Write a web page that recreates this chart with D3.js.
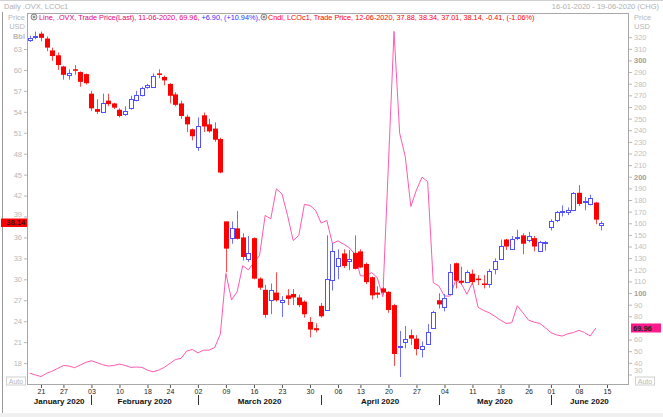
<!DOCTYPE html>
<html>
<head>
<meta charset="utf-8">
<script src="https://cdn.jsdelivr.net/npm/d3@7"></script>
<style>
  body { margin: 0; background: #fff; }
  svg { display: block; font-family: "Liberation Sans", Arial, sans-serif; }
</style>
</head>
<body>
<div id="chart"></div>
<script>
// trading days shown on the category axis (16 Jan - 19 Jun 2020)
const dates = [
  "2020-01-16","2020-01-17","2020-01-21","2020-01-22","2020-01-23","2020-01-24","2020-01-27","2020-01-28","2020-01-29","2020-01-30","2020-01-31",
  "2020-02-03","2020-02-04","2020-02-05","2020-02-06","2020-02-07","2020-02-10","2020-02-11","2020-02-12","2020-02-13","2020-02-14",
  "2020-02-18","2020-02-19","2020-02-20","2020-02-21","2020-02-24","2020-02-25","2020-02-26","2020-02-27","2020-02-28",
  "2020-03-02","2020-03-03","2020-03-04","2020-03-05","2020-03-06","2020-03-09","2020-03-10","2020-03-11","2020-03-12","2020-03-13",
  "2020-03-16","2020-03-17","2020-03-18","2020-03-19","2020-03-20","2020-03-23","2020-03-24","2020-03-25","2020-03-26","2020-03-27",
  "2020-03-30","2020-03-31","2020-04-01","2020-04-02","2020-04-03","2020-04-06","2020-04-07","2020-04-08","2020-04-09",
  "2020-04-13","2020-04-14","2020-04-15","2020-04-16","2020-04-17","2020-04-20","2020-04-21","2020-04-22","2020-04-23","2020-04-24",
  "2020-04-27","2020-04-28","2020-04-29","2020-04-30","2020-05-01","2020-05-04","2020-05-05","2020-05-06","2020-05-07","2020-05-08",
  "2020-05-11","2020-05-12","2020-05-13","2020-05-14","2020-05-15","2020-05-18","2020-05-19","2020-05-20","2020-05-21","2020-05-22",
  "2020-05-26","2020-05-27","2020-05-28","2020-05-29","2020-06-01","2020-06-02","2020-06-03","2020-06-04","2020-06-05",
  "2020-06-08","2020-06-09","2020-06-10","2020-06-11","2020-06-12","2020-06-15","2020-06-16","2020-06-17","2020-06-18","2020-06-19"
];

// LCOc1 candles (USD/Bbl)
const open = [64.3,64.7,65.2,64.5,62.8,62.1,60.5,59.2,60.1,59.7,59.4,
  56.6,54.4,54.0,55.6,55.2,54.3,53.6,54.5,55.7,56.4,57.5,57.6,59.5,59.0,58.0,56.5,55.2,53.3,51.5,
  48.9,53.5,52.2,51.6,50.1,38.3,35.9,37.3,36.0,32.9,35.9,30.1,28.5,27.1,28.1,26.8,27.7,27.9,27.4,26.8,23.9,23.0,
  26.2,25.6,29.9,31.8,33.7,32.6,33.8,34.0,32.2,30.3,28.1,28.7,28.2,26.3,20.2,20.9,22.0,21.5,20.0,20.8,23.0,
  27.0,26.0,28.0,32.3,29.8,29.6,30.8,30.1,29.4,29.4,31.4,32.9,35.7,34.4,35.9,36.3,35.6,35.9,34.0,35.25,
  37.4,38.4,39.7,39.7,39.9,42.4,41.1,40.9,41.0,37.88];
const high = [64.9,65.5,65.5,64.8,63.2,62.5,60.6,60.1,60.7,59.8,59.5,
  57.0,55.8,56.6,56.6,55.3,54.5,54.8,56.3,57.0,57.6,58.0,59.5,60.1,59.2,58.1,56.8,55.6,53.6,51.6,
  53.2,53.9,53.0,52.5,50.3,38.3,38.3,39.8,36.6,36.2,36.0,30.3,29.2,29.4,31.0,27.6,28.6,28.6,27.8,27.0,24.6,23.7,
  26.6,36.3,35.2,34.3,34.3,34.2,36.3,34.3,32.4,30.4,29.0,28.9,28.3,26.5,22.6,23.3,22.8,22.0,21.1,23.6,25.5,
  28.0,27.9,32.2,32.4,31.8,31.3,31.4,30.6,30.6,31.5,33.0,35.7,35.8,36.2,37.1,36.6,36.8,36.2,35.5,35.5,
  38.6,39.8,40.6,40.3,42.5,43.5,41.8,42.1,41.1,38.34];
const low = [64.0,64.4,64.1,62.7,61.3,60.0,58.6,58.6,59.3,57.6,57.9,
  54.1,53.7,53.9,54.8,54.4,53.2,53.4,54.3,55.5,56.2,57.3,57.4,58.8,57.8,55.2,54.8,53.0,51.1,49.9,
  48.4,51.1,51.0,49.7,45.2,31.0,35.1,35.7,32.7,32.5,30.0,28.5,24.5,25.0,26.8,24.6,26.3,26.3,26.0,24.5,21.7,22.4,
  24.5,25.5,28.4,30.0,31.6,31.3,31.4,31.6,29.3,27.1,27.3,27.8,25.2,17.6,16.0,20.1,20.6,19.1,18.8,20.6,22.9,
  25.8,25.4,27.9,28.7,29.2,29.5,29.2,29.2,28.7,28.8,30.7,32.8,34.2,34.3,35.6,33.6,35.3,34.0,33.9,34.1,
  37.0,38.2,39.0,39.2,39.8,40.5,39.9,40.6,37.9,37.01];
const close = [64.6,64.9,64.6,63.2,62.0,60.7,59.3,59.5,59.9,58.3,58.1,
  54.5,54.0,55.3,55.1,54.6,53.4,54.1,55.8,56.4,57.4,57.8,59.2,59.4,58.5,56.3,55.0,53.4,52.2,50.5,
  51.9,51.9,51.2,50.0,45.3,34.4,37.3,35.8,33.2,33.8,30.1,28.8,24.9,28.5,27.0,27.1,27.2,27.4,26.3,25.0,22.8,22.7,
  24.7,30.0,34.1,33.0,31.9,32.9,31.5,31.7,29.6,27.7,27.8,28.1,25.6,19.3,20.4,21.4,21.5,20.0,20.5,22.5,25.3,
  26.4,27.3,31.1,29.8,29.5,31.0,29.6,30.0,29.2,31.2,32.6,34.8,34.7,35.8,36.1,35.1,36.2,34.7,35.3,35.35,
  38.3,39.6,39.8,40.0,42.3,40.8,41.2,41.7,38.55,38.14];

// .OVX line (right axis)
const ovx = [31.0,29.6,28.2,31.0,32.9,35.2,37.8,37.2,35.8,38.1,40.4,
  41.8,40.1,38.4,37.2,37.8,38.9,37.8,36.1,36.4,36.1,33.7,32.3,33.7,36.1,39.5,42.9,43.8,50.1,51.5,
  48.6,50.9,50.9,53.2,64.6,116.9,94.0,101.1,123.6,119.9,126.5,132.3,166.7,163.8,189.6,185.3,166.7,145.2,149.5,176.2,175.3,171.0,
  160.1,162.5,142.6,144.9,142.0,139.1,133.4,114.8,114.8,117.6,113.3,96.8,211.0,325.0,237.5,217.3,174.4,188.7,199.6,195.8,109.0,
  106.0,97.4,97.4,111.0,108.0,99.0,109.0,87.7,85.0,83.0,80.0,76.7,73.9,74.4,89.1,83.0,76.7,75.0,73.9,70.2,
  66.0,64.0,63.0,65.0,66.0,68.0,66.0,63.06,69.96];

const leftTicks = [18,21,24,27,30,33,36,39,42,45,48,51,54,57,60,63];
const rightTicks = [30,40,50,60,80,90,100,110,120,130,140,150,160,170,180,190,200,210,220,230,240,250,260,270,280,290,300,310,320];
const rightBold = [100,200,300];
const dayTicks = ["2020-01-21","2020-01-27","2020-02-03","2020-02-10","2020-02-18","2020-02-24","2020-03-02","2020-03-09","2020-03-16",
  "2020-03-23","2020-03-30","2020-04-06","2020-04-13","2020-04-20","2020-04-27","2020-05-04","2020-05-11","2020-05-18","2020-05-26",
  "2020-06-01","2020-06-08","2020-06-15"];
const monthNames = ["January 2020","February 2020","March 2020","April 2020","May 2020","June 2020"];
const monthStarts = ["2020-02-03","2020-03-02","2020-04-01","2020-05-01","2020-06-01"];

const W = 663, H = 417;
const plot = {left: 27, right: 628, top: 13, bottom: 384};
const font = "Liberation Sans, Arial, sans-serif";

const svg = d3.select("#chart").append("svg")
  .attr("width", W).attr("height", H);

const x = d3.scalePoint().domain(dates).range([29.8, 629.4]);
const yL = d3.scaleLinear().domain([15, 68.16]).range([plot.bottom, plot.top]);
const yR = d3.scaleLinear().domain([21.8, 340.8]).range([plot.bottom, plot.top]);

// outer frame
svg.append("rect").attr("x", 0).attr("y", 413).attr("width", W).attr("height", 4).attr("fill", "#f0f0f0");
svg.append("line").attr("x1", 0).attr("x2", W).attr("y1", 0.5).attr("y2", 0.5).attr("stroke", "#d0d0d0");
svg.append("line").attr("x1", 2.5).attr("x2", 2.5).attr("y1", 12).attr("y2", 413).attr("stroke", "#9a9a9a");

// header
svg.append("text").attr("x", 4).attr("y", 9).attr("font-size", 7.5).attr("fill", "#b0b0b0")
  .text("Daily .OVX, LCOc1");
svg.append("text").attr("x", 659).attr("y", 9).attr("font-size", 7.5).attr("fill", "#b0b0b0")
  .attr("text-anchor", "end").text("16-01-2020 - 19-06-2020 (CHG)");

// unit labels
[["Price", 20], ["USD", 29], ["Bbl", 39]].forEach(([t, yy]) => {
  svg.append("text").attr("x", 25).attr("y", yy).attr("font-size", 7.5).attr("fill", "#b8b8b8")
    .attr("text-anchor", "end").attr("font-weight", t === "Bbl" ? "bold" : "normal").text(t);
});
[["Price", 20], ["USD", 29]].forEach(([t, yy]) => {
  svg.append("text").attr("x", 634).attr("y", yy).attr("font-size", 7.5).attr("fill", "#b8b8b8").text(t);
});

// plot frame
svg.append("rect")
  .attr("x", plot.left + 0.5).attr("y", plot.top + 0.5)
  .attr("width", plot.right - plot.left).attr("height", plot.bottom - plot.top)
  .attr("fill", "#fff").attr("stroke", "#a8a8a8");

// left axis
const gL = svg.append("g").attr("transform", `translate(${plot.left},0)`)
  .call(d3.axisLeft(yL).tickValues(leftTicks).tickSize(3).tickPadding(2));
gL.select(".domain").remove();
gL.selectAll(".tick line").attr("stroke", "#b8b8b8");
gL.selectAll(".tick text").attr("fill", "#b8b8b8").style("font-size", "7.5px").style("font-family", font)
  .attr("dy", d => d === 39 ? "-0.05em" : "0.32em");

// right axis
const gR = svg.append("g").attr("transform", `translate(${plot.right + 1},0)`)
  .call(d3.axisRight(yR).tickValues(rightTicks).tickSize(3).tickPadding(2));
gR.select(".domain").remove();
gR.selectAll(".tick line").attr("stroke", "#b8b8b8");
gR.selectAll(".tick text")
  .attr("fill", d => rightBold.includes(d) ? "#a0a0a0" : "#c0c0c0")
  .attr("font-weight", d => rightBold.includes(d) ? "bold" : "normal")
  .attr("dy", d => d === 30 ? "-0.2em" : "0.32em")
  .style("font-size", "7.5px").style("font-family", font);

// bottom axis: days
const gX = svg.append("g").attr("transform", `translate(0,${plot.bottom + 1})`)
  .call(d3.axisBottom(x).tickValues(dayTicks).tickSize(3).tickPadding(1).tickFormat(d => d.slice(8)));
gX.select(".domain").remove();
gX.selectAll(".tick line").attr("stroke", "#555");
gX.selectAll(".tick text").attr("fill", "#1a1a1a").style("font-size", "7px").style("font-family", font);

// month separators and labels
const bounds = [plot.left].concat(monthStarts.map(d => x(d)), [plot.right]);
monthStarts.forEach(d => {
  svg.append("line").attr("x1", Math.round(x(d)) + 0.5).attr("x2", Math.round(x(d)) + 0.5)
    .attr("y1", 395).attr("y2", 405).attr("stroke", "#333");
});
monthNames.forEach((m, i) => {
  svg.append("text").attr("x", (bounds[i] + bounds[i + 1]) / 2).attr("y", 404)
    .attr("text-anchor", "middle").attr("font-size", 8).attr("font-weight", "bold")
    .attr("fill", "#111").text(m);
});

// OVX line
const ovxLine = d3.line().x((d, i) => x(dates[i])).y(d => yR(d));
svg.append("path").datum(ovx)
  .attr("fill", "none").attr("stroke", "#ff5aaf").attr("stroke-width", 1)
  .attr("d", ovxLine);

// candles
const candles = close.map((c, i) => ({date: dates[i], o: open[i], h: high[i], l: low[i], c: c}));
const cg = svg.append("g");
candles.forEach(d => {
  const up = d.c >= d.o;
  const cx = Math.round(x(d.date)) + 0.5;
  cg.append("line").attr("x1", cx).attr("x2", cx)
    .attr("y1", yL(d.h)).attr("y2", yL(d.l))
    .attr("stroke", up ? "#7070ff" : "#ff4a4a");
  const top = yL(Math.max(d.o, d.c)), bot = yL(Math.min(d.o, d.c));
  if (up) {
    cg.append("rect").attr("x", cx - 2).attr("y", Math.round(top) + 0.5)
      .attr("width", 4).attr("height", Math.max(1, Math.round(bot - top)))
      .attr("fill", "#fff").attr("stroke", "#5050ff").attr("stroke-width", 1);
  } else {
    cg.append("rect").attr("x", cx - 2.5).attr("y", top)
      .attr("width", 5).attr("height", Math.max(1.5, bot - top))
      .attr("fill", "#ff0000");
  }
});

// legend
function icon(cx) {
  svg.append("circle").attr("cx", cx).attr("cy", 17).attr("r", 3).attr("fill", "#ddd").attr("stroke", "#777").attr("stroke-width", 0.8);
  svg.append("circle").attr("cx", cx).attr("cy", 17).attr("r", 1).attr("fill", "#777");
}
icon(34);
const leg = svg.append("text").attr("x", 39).attr("y", 20).attr("font-size", 7.3);
leg.append("tspan").attr("fill", "#e6007e").text("Line, .OVX, Trade Price(Last), 11-06-2020, 69.96, ");
leg.append("tspan").attr("fill", "#3030ff").text("+6.90, (+10.94%),");
const legW = leg.node().getComputedTextLength();
icon(39 + legW + 4);
svg.append("text").attr("x", 39 + legW + 8).attr("y", 20).attr("font-size", 7.3).attr("fill", "#ff0000")
  .text("Cndl, LCOc1, Trade Price, 12-06-2020, 37.88, 38.34, 37.01, 38.14, -0.41, (-1.06%)");

// last value boxes
const lastC = close[close.length - 1];
svg.append("rect").attr("x", 1).attr("y", yL(lastC) - 4).attr("width", 26).attr("height", 8.5).attr("fill", "#ff0000");
svg.append("text").attr("x", 25).attr("y", yL(lastC) + 2.8).attr("text-anchor", "end")
  .attr("font-size", 7.5).attr("font-weight", "bold").attr("fill", "#222").text(lastC.toFixed(2));
const lastO = ovx[ovx.length - 1];
svg.append("rect").attr("x", 631).attr("y", yR(lastO) - 4.5).attr("width", 30).attr("height", 9).attr("fill", "#ff1a8c");
svg.append("text").attr("x", 633).attr("y", yR(lastO) + 2.8)
  .attr("font-size", 7.5).attr("font-weight", "bold").attr("fill", "#222").text(lastO.toFixed(2));

// Auto buttons
[[6, 376.5], [635, 376.5]].forEach(([bx, by]) => {
  svg.append("rect").attr("x", bx + 0.5).attr("y", by + 0.5).attr("width", 19).attr("height", 8)
    .attr("fill", "#fff").attr("stroke", "#d0d0d0");
  svg.append("text").attr("x", bx + 10).attr("y", by + 7).attr("text-anchor", "middle")
    .attr("font-size", 7).attr("fill", "#b8b8b8").text("Auto");
});
</script>
</body>
</html>
